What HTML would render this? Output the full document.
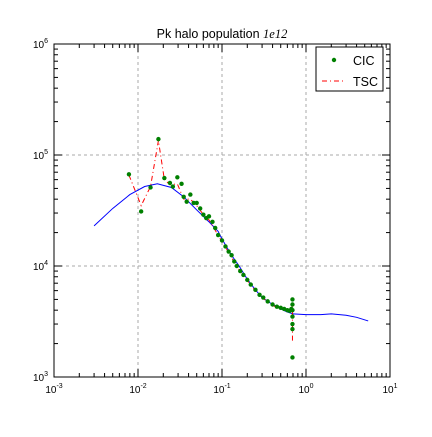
<!DOCTYPE html>
<html><head><meta charset="utf-8"><style>
body{margin:0;background:#fff;font-family:"Liberation Sans",sans-serif}
svg text{font-family:"Liberation Sans",sans-serif}
</style></head><body>
<svg id="chart" width="432" height="432" viewBox="0 0 432 432" xmlns="http://www.w3.org/2000/svg">
<rect width="432" height="432" fill="#fff"/>
<g id="grid"></g>
<g id="series"></g>
<rect x="54" y="44" width="336" height="333" fill="none" stroke="#000" stroke-width="1"/>
<g id="ticks"></g>
<text x="222" y="38" text-anchor="middle" font-size="12.5">Pk halo population <tspan font-family="Liberation Serif" font-style="italic">1e12</tspan></text>
<g>
<rect x="316" y="47" width="67" height="44" fill="#fff" stroke="#000"/>
<g>
<circle cx="334" cy="60" r="2.2" fill="#008000"/>
<text x="353" y="65" font-size="12.5">CIC</text></g>
<g>
<line x1="322" y1="81" x2="346" y2="81" stroke="#f00" stroke-dasharray="5,3,1,3"/>
<text x="353" y="86" font-size="12.5">TSC</text></g>
</g>
</svg>
<script>
const linK=[0.003,0.005,0.008,0.012,0.017,0.025,0.035,0.05,0.07,0.09,0.1,0.13,0.16,0.2,0.25,0.3,0.4,0.5,0.6,0.7,1.0,1.5,2.0,3.0,4.0,5.5];
const linP=[23000,33000,44000,52000,55000,51000,42000,32000,25000,20500,17500,12500,10000,7600,6100,5200,4500,4100,3850,3700,3650,3650,3700,3600,3450,3200];
const cicK=[0.0078,0.0109,0.0141,0.0175,0.0206,0.024,0.026,0.0294,0.033,0.035,0.038,0.042,0.046,0.05,0.055,0.06,0.065,0.07,0.077,0.083,0.09,0.1,0.11,0.12,0.13,0.14,0.15,0.165,0.18,0.2,0.22,0.25,0.28,0.31,0.35,0.4,0.45,0.5,0.55,0.6,0.64,0.67,0.69,0.69,0.69,0.69,0.69,0.69,0.69];
const cicP=[67000,31000,51000,139000,62000,56000,52000,63000,55000,42000,38000,44000,37000,37000,33000,29000,27000,28000,25000,22000,19000,17000,15000,13500,12500,11000,10000,9000,8300,7500,6800,6100,5500,5200,4800,4500,4300,4200,4100,4000,3950,4100,5000,4500,4000,3500,3000,2700,1500];
const tscK=[0.0078,0.0109,0.0141,0.0175,0.0206,0.024,0.0294,0.035,0.042,0.05,0.06,0.07,0.083,0.1,0.12,0.14,0.165,0.2,0.25,0.31,0.4,0.5,0.6,0.67,0.69,0.69,0.69];
const tscP=[66000,35000,52000,135000,60000,54000,55000,40000,40000,35000,29000,26000,21000,16500,13300,10800,8900,7400,6000,5100,4400,4150,3950,3900,4500,3700,2100];
const xTicks=[-3,-2,-1,0,1];
const yTicks=[3,4,5,6];
const X0=54,X1=390,Y0=377,Y1=44;
const xs=k=>X0+(Math.log10(k)+3)/4*(X1-X0);
const ys=p=>Y0-(Math.log10(p)-3)/3*(Y0-Y1);
const NS="http://www.w3.org/2000/svg";
function mk(t,a,parent){const e=document.createElementNS(NS,t);for(const k in a)e.setAttribute(k,a[k]);parent.appendChild(e);return e;}
const grid=document.getElementById('grid'),ticks=document.getElementById('ticks'),ser=document.getElementById('series');
xTicks.forEach(d=>{const x=X0+(d+3)/4*(X1-X0);
 if(d>-3&&d<1){const g=mk('line',{x1:x,x2:x,y1:Y1,y2:Y0,stroke:'#aaa','stroke-dasharray':'3,3'},grid);
 
 }
 for(const [ya,dir] of [[Y0,-1],[Y1,1]]){mk('line',{x1:x,x2:x,y1:ya,y2:ya+dir*8,stroke:'#000'},ticks);
  if(d<1)for(let m=2;m<10;m++){const xm=x+Math.log10(m)/4*(X1-X0);mk('line',{x1:xm,x2:xm,y1:ya,y2:ya+dir*4,stroke:'#000'},ticks);}}
 const t=mk('text',{x:x,y:Y0+16,'text-anchor':'middle','font-size':'10'},ticks);
 
 
 t.innerHTML='10<tspan dy="-5" font-size="7">'+d+'</tspan>';});
yTicks.forEach(d=>{const y=Y0-(d-3)/3*(Y0-Y1);
 if(d>3&&d<6){const g=mk('line',{x1:X0,x2:X1,y1:y,y2:y,stroke:'#aaa','stroke-dasharray':'3,3'},grid);
 
 }
 for(const [xa,dir] of [[X0,1],[X1,-1]]){mk('line',{x1:xa,x2:xa+dir*8,y1:y,y2:y,stroke:'#000'},ticks);
  if(d<6)for(let m=2;m<10;m++){const ym=y-Math.log10(m)/3*(Y0-Y1);mk('line',{x1:xa,x2:xa+dir*4,y1:ym,y2:ym,stroke:'#000'},ticks);}}
 const t=mk('text',{x:X0-6,y:y+4,'text-anchor':'end','font-size':'10'},ticks);
 
 
 t.innerHTML='10<tspan dy="-5" font-size="7">'+d+'</tspan>';});
const lin=mk('polyline',{points:linK.map((k,i)=>xs(k)+','+ys(linP[i])).join(' '),fill:'none',stroke:'#00f','stroke-width':1},ser);


const tsc=mk('polyline',{points:tscK.map((k,i)=>xs(k)+','+ys(tscP[i])).join(' '),fill:'none',stroke:'#f00','stroke-width':1,'stroke-dasharray':'5,3,1,3'},ser);


cicK.forEach((k,i)=>{const c=mk('circle',{cx:xs(k),cy:ys(cicP[i]),r:2.2,fill:'#008000'},ser);
 
 });
</script>
</body></html>
